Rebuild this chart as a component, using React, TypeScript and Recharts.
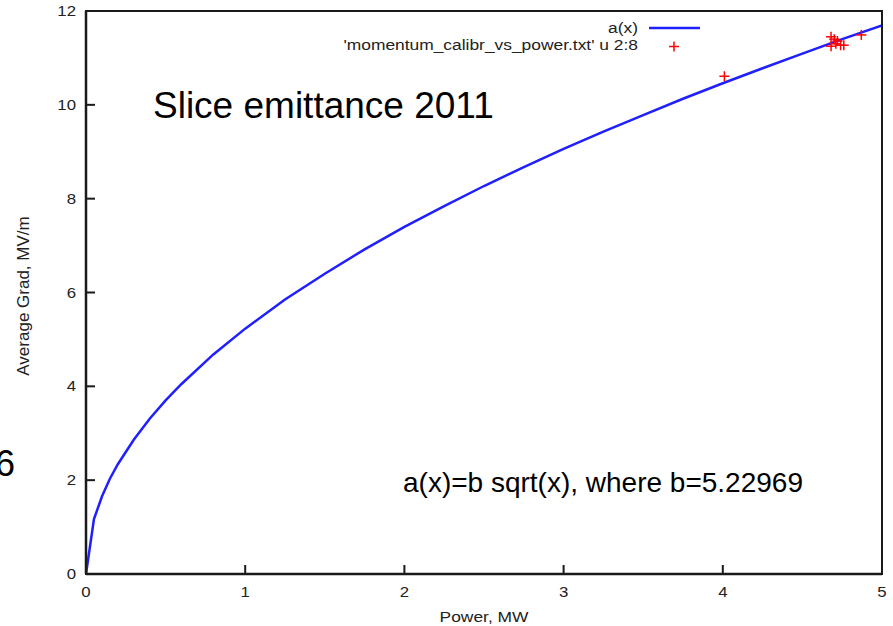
import React from "react";
import { ComposedChart, Line, Scatter, XAxis, YAxis } from "recharts";

// fitted curve a(x)
const powerGrid = [
  0, 0.05, 0.1, 0.15, 0.2, 0.3, 0.4, 0.5, 0.6, 0.8, 1, 1.25, 1.5, 1.75, 2,
  2.25, 2.5, 2.75, 3, 3.25, 3.5, 3.75, 4, 4.25, 4.5, 4.75, 5,
];
const fitGrad = [
  0, 1.17, 1.65, 2.03, 2.34, 2.86, 3.31, 3.7, 4.05, 4.68, 5.23, 5.85, 6.4,
  6.92, 7.4, 7.84, 8.27, 8.67, 9.06, 9.43, 9.78, 10.13, 10.46, 10.78, 11.09,
  11.4, 11.69,
];

// measured points (momentum_calibr_vs_power.txt, u 2:8)
const measPower = [4.01, 4.68, 4.7, 4.72, 4.71, 4.68, 4.74, 4.76, 4.87];
const measGrad = [10.61, 11.45, 11.4, 11.36, 11.3, 11.25, 11.27, 11.27, 11.49];

const xTicks = [0, 1, 2, 3, 4, 5];
const yTicks = [0, 2, 4, 6, 8, 10, 12];

const curveData = powerGrid.map((x, i) => ({ x, a: fitGrad[i] }));
const pointData = measPower.map((x, i) => ({ x, y: measGrad[i] }));

const W = 893;
const H = 626;
const M = { top: 11, right: 11 };
const Y_AXIS_W = 86;
const X_AXIS_H = 52;

const FONT = "'Liberation Sans', Arial, Helvetica, sans-serif";
const BLUE = "#1f1fff";
const RED = "#ff0000";
const INK = "#1a1a1a";
const TICK = 9;
const LW = 2.5;

// gnuplot style: tick marks point into the plot
const BottomTick = (props: any) => {
  const { x, y, payload } = props;
  return (
    <g transform={`translate(${x},${y})`}>
      <rect x={-1} y={-TICK} width={2} height={TICK} fill={INK} />
      <text
        transform="scale(1.2,1)"
        x={0}
        y={23}
        textAnchor="middle"
        fontSize={14}
        fill="#222"
        fontFamily={FONT}
      >
        {payload.value}
      </text>
    </g>
  );
};

const LeftTick = (props: any) => {
  const { x, y, payload } = props;
  return (
    <g transform={`translate(${x},${y})`}>
      <rect x={0} y={-1} width={TICK} height={2} fill={INK} />
      <text
        transform="translate(-10,0) scale(1.2,1)"
        x={0}
        y={5}
        textAnchor="end"
        fontSize={14}
        fill="#222"
        fontFamily={FONT}
      >
        {payload.value}
      </text>
    </g>
  );
};

const TopTick = (props: any) => {
  const { x, y } = props;
  return <rect x={x - 1} y={y} width={2} height={TICK} fill={INK} />;
};

const RightTick = (props: any) => {
  const { x, y } = props;
  return <rect x={x - TICK} y={y - 1} width={TICK} height={2} fill={INK} />;
};

const Plus = (props: any) => {
  const { cx, cy } = props;
  return (
    <g stroke={RED} strokeWidth={1.5}>
      <line x1={cx - 5} y1={cy} x2={cx + 5} y2={cy} />
      <line x1={cx} y1={cy - 5} x2={cx} y2={cy + 5} />
    </g>
  );
};

export default function App() {
  const plotL = Y_AXIS_W;
  const plotT = M.top;
  const plotR = W - M.right;
  const plotB = H - X_AXIS_H;

  return (
    <div
      style={{
        position: "absolute",
        left: 0,
        top: 0,
        width: W,
        height: H,
        background: "#fff",
        fontFamily: FONT,
      }}
    >
      <ComposedChart
        width={W}
        height={H}
        margin={{ top: M.top, right: M.right, left: 0, bottom: 0 }}
      >
        <XAxis
          dataKey="x"
          type="number"
          domain={[0, 5]}
          ticks={xTicks}
          allowDataOverflow
          height={X_AXIS_H}
          stroke={INK}
          strokeWidth={LW}
          tickLine={false}
          tickSize={0}
          tickMargin={0}
          tick={<BottomTick />}
        />
        <XAxis
          xAxisId="top"
          orientation="top"
          dataKey="x"
          type="number"
          domain={[0, 5]}
          ticks={xTicks}
          allowDataOverflow
          height={0}
          stroke={INK}
          strokeWidth={LW}
          tickLine={false}
          tickSize={0}
          tickMargin={0}
          tick={<TopTick />}
        />
        <YAxis
          type="number"
          domain={[0, 12]}
          ticks={yTicks}
          allowDataOverflow
          width={Y_AXIS_W}
          stroke={INK}
          strokeWidth={LW}
          tickLine={false}
          tickSize={0}
          tickMargin={0}
          tick={<LeftTick />}
        />
        <YAxis
          yAxisId="right"
          orientation="right"
          type="number"
          domain={[0, 12]}
          ticks={yTicks}
          allowDataOverflow
          width={0}
          stroke={INK}
          strokeWidth={LW}
          tickLine={false}
          tickSize={0}
          tickMargin={0}
          tick={<RightTick />}
        />
        <Line
          data={curveData}
          dataKey="a"
          type="linear"
          stroke={BLUE}
          strokeWidth={2.5}
          dot={false}
          activeDot={false}
          isAnimationActive={false}
        />
        <Scatter
          data={pointData}
          dataKey="y"
          shape={<Plus />}
          isAnimationActive={false}
        />
      </ComposedChart>

      <svg
        width={W}
        height={H}
        style={{ position: "absolute", left: 0, top: 0, pointerEvents: "none" }}
        fontFamily={FONT}
      >
        {/* plot frame, drawn as filled strips */}
        <rect x={plotL - 1} y={plotT - 1} width={plotR - plotL + 2} height={2} fill={INK} />
        <rect x={plotL - 1} y={plotB - 1} width={plotR - plotL + 2} height={2} fill={INK} />
        <rect x={plotL - 1} y={plotT - 1} width={2} height={plotB - plotT + 2} fill={INK} />
        <rect x={plotR - 1} y={plotT - 1} width={2} height={plotB - plotT + 2} fill={INK} />

        {/* key */}
        <text
          transform="translate(638,33) scale(1.2,1)"
          textAnchor="end"
          fontSize={14.5}
          fill="#222"
        >
          a(x)
        </text>
        <line x1={649} y1={28} x2={700} y2={28} stroke={BLUE} strokeWidth={2.5} />
        <text
          transform="translate(638,50) scale(1.2,1)"
          textAnchor="end"
          fontSize={14.5}
          fill="#222"
        >
          'momentum_calibr_vs_power.txt' u 2:8
        </text>
        <Plus cx={674} cy={46.5} />

        {/* axis titles */}
        <text
          transform="translate(484,622) scale(1.2,1)"
          textAnchor="middle"
          fontSize={14.5}
          fill="#222"
        >
          Power, MW
        </text>
        <text
          transform="translate(29,296) rotate(-90)"
          textAnchor="middle"
          fontSize={17}
          fill="#222"
        >
          Average Grad, MV/m
        </text>

        {/* slide annotations */}
        <text x={153} y={118} fontSize={37} fill="#000">
          Slice emittance 2011
        </text>
        <text x={403} y={492} fontSize={28} fill="#000">
          a(x)=b sqrt(x), where b=5.22969
        </text>
        <text x={-5} y={476} fontSize={36} fill="#000">
          6
        </text>
      </svg>
    </div>
  );
}
